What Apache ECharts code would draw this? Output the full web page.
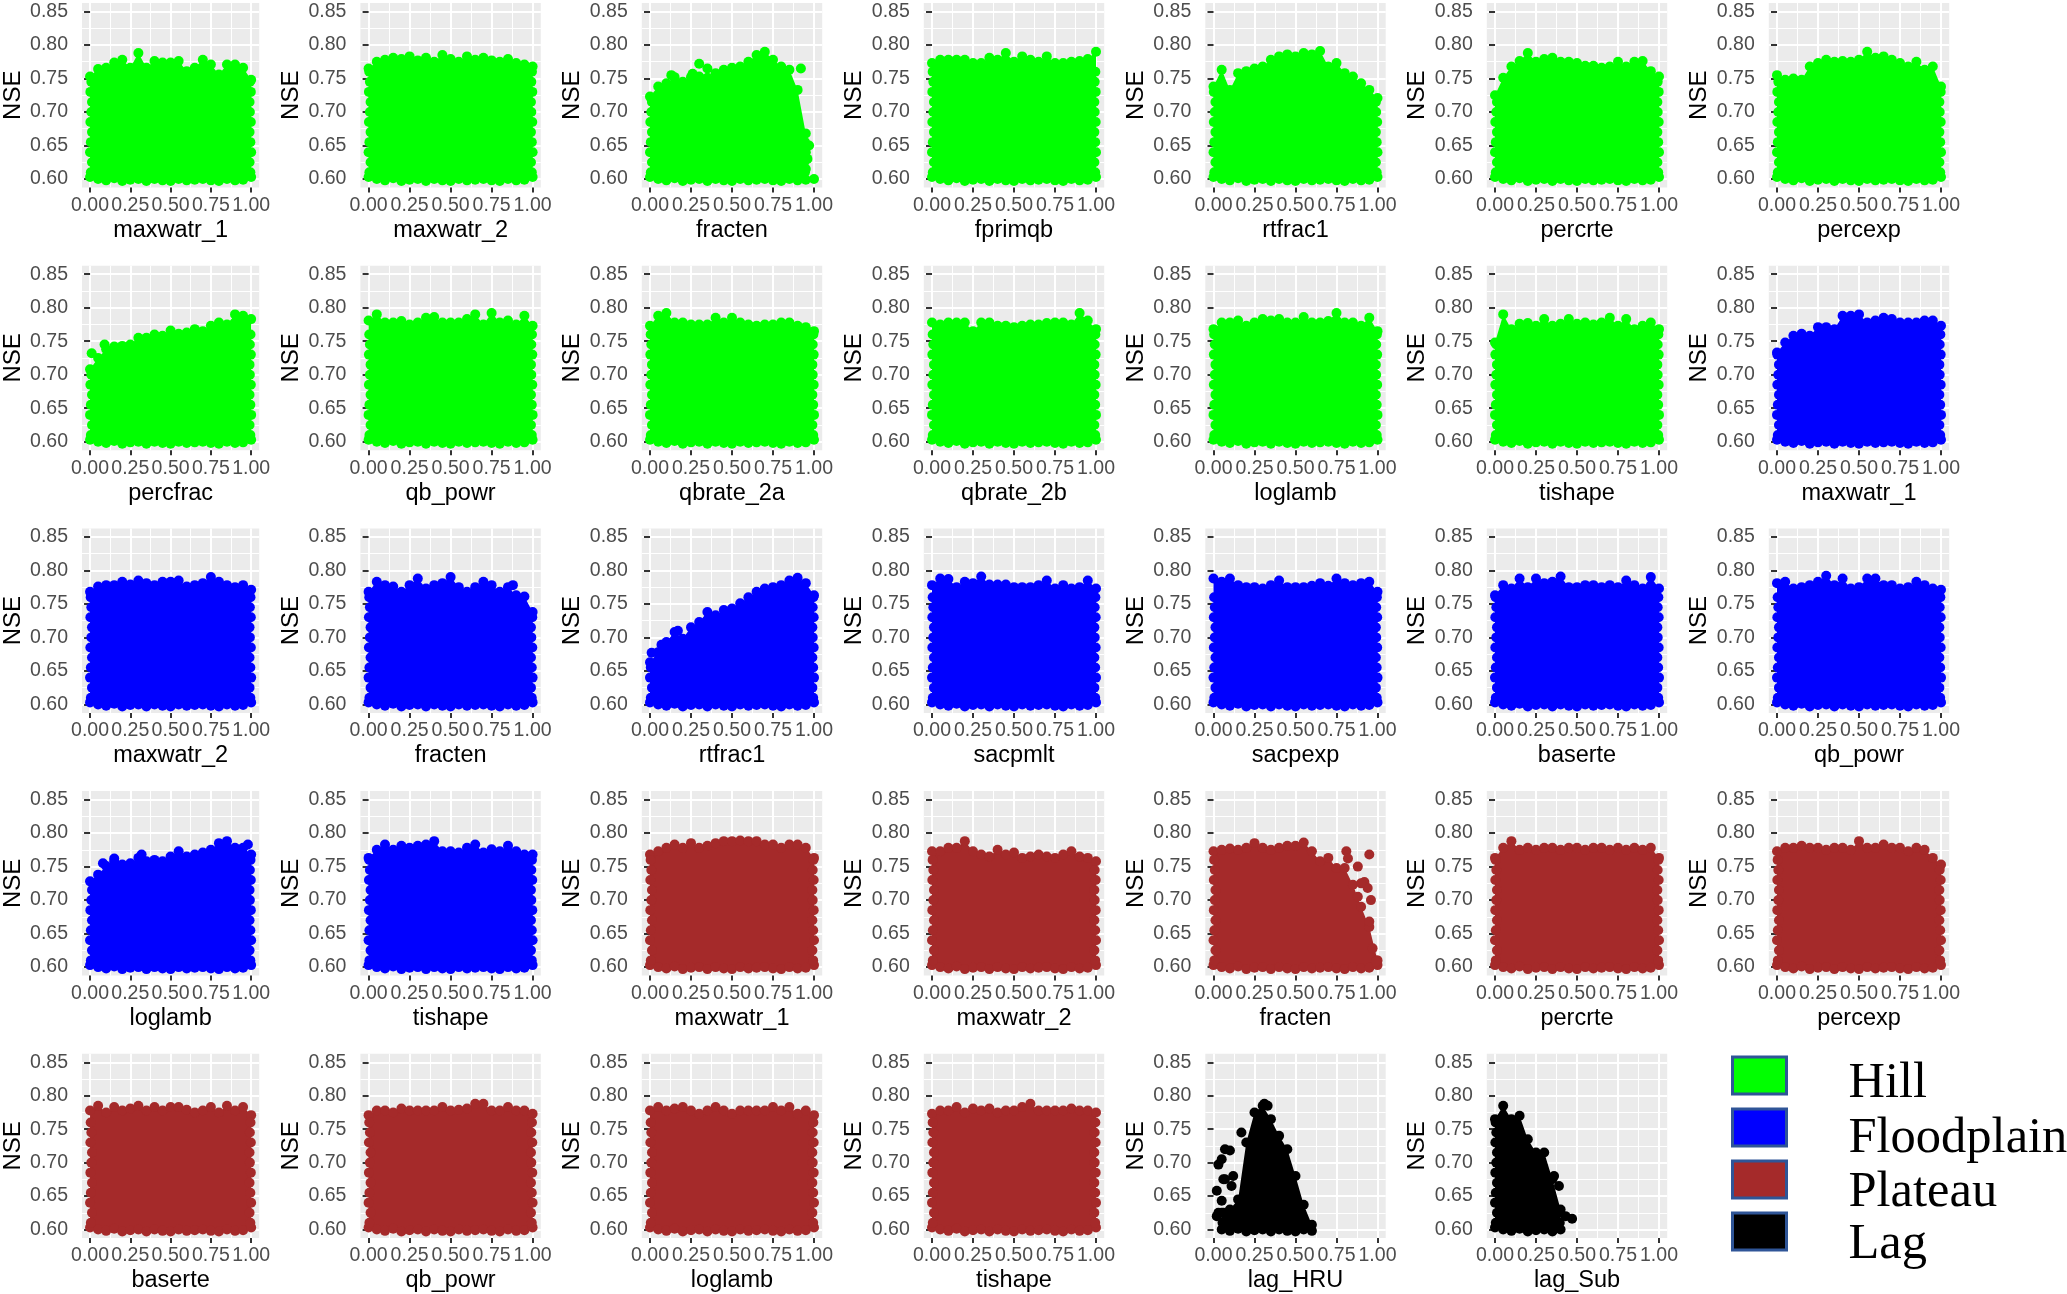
<!DOCTYPE html>
<html><head><meta charset="utf-8">
<style>html,body{margin:0;padding:0;background:#fff}#c{width:2067px;height:1294px}</style>
<script src="https://cdn.jsdelivr.net/npm/echarts@6/dist/echarts.min.js"></script>
</head><body><div id="c"></div>
<script>
// Parameter values at which each panel's upper NSE edge was read
const xRead = [0,.05,.1,.15,.2,.25,.3,.35,.4,.45,.5,.55,.6,.65,.7,.75,.8,.85,.9,.95,1];
// Upper edge of each dense point cloud, read at xRead (null = no points there)
const hillMaxwatr1 = [.753,.764,.766,.774,.778,.766,.788,.766,.776,.774,.774,.776,.761,.766,.778,.771,.756,.771,.771,.766,.748];
const hillMaxwatr2 = [.765,.775,.778,.781,.779,.783,.777,.781,.775,.785,.779,.775,.783,.778,.781,.777,.775,.779,.773,.771,.768];
const hillFracten = [.723,.738,.743,.752,.745,.752,.753,.751,.758,.763,.766,.768,.775,.785,.79,.778,.768,.763,.733,.668,null];
const hillFprimqb = [.773,.778,.778,.778,.778,.773,.773,.781,.778,.788,.775,.783,.778,.775,.783,.773,.773,.775,.776,.779,.79];
const hillRtfrac1 = [.738,.763,.733,.758,.761,.765,.768,.778,.783,.786,.783,.788,.786,.791,.768,.773,.758,.753,.743,.733,.721];
const hillPercrte = [.725,.751,.768,.776,.788,.775,.779,.781,.775,.775,.773,.769,.769,.766,.768,.775,.768,.775,.776,.761,.753];
const hillPercexp = [.755,.748,.75,.748,.768,.773,.778,.775,.776,.775,.778,.79,.781,.783,.778,.773,.768,.775,.763,.768,.738];
const hillPercfrac = [.708,.725,.738,.738,.743,.745,.755,.755,.76,.758,.766,.761,.763,.768,.765,.773,.778,.775,.79,.788,.783];
const hillQbPowr = [.781,.79,.778,.778,.78,.775,.778,.785,.786,.778,.778,.778,.783,.79,.775,.792,.778,.781,.775,.788,.773];
const hillQbrate2a = [.773,.788,.792,.778,.778,.775,.775,.775,.785,.778,.785,.778,.775,.773,.775,.775,.778,.778,.773,.771,.765];
const hillQbrate2b = [.778,.775,.778,.778,.778,.765,.778,.778,.773,.773,.771,.773,.775,.775,.777,.778,.778,.775,.792,.781,.768];
const hillLoglamb = [.768,.778,.778,.781,.773,.778,.783,.781,.783,.778,.778,.786,.778,.778,.78,.792,.778,.778,.773,.785,.765];
const hillTishape = [.748,.79,.768,.776,.777,.773,.783,.773,.776,.783,.776,.778,.775,.778,.785,.773,.783,.768,.773,.778,.768];
const floodMaxwatr1 = [.733,.748,.758,.761,.758,.771,.771,.768,.788,.788,.79,.778,.781,.785,.783,.778,.778,.778,.781,.781,.773];
const floodMaxwatr2 = [.768,.776,.778,.778,.783,.779,.785,.781,.778,.783,.783,.785,.776,.778,.781,.79,.783,.778,.775,.778,.771];
const floodFracten = [.768,.783,.778,.776,.768,.778,.788,.773,.778,.781,.79,.775,.768,.775,.783,.778,.768,.775,.763,.761,.738];
const floodRtfrac1 = [.663,.678,.693,.708,.698,.715,.723,.738,.733,.741,.743,.751,.76,.768,.773,.775,.778,.785,.789,.781,.763];
const floodSacpmlt = [.778,.788,.787,.775,.783,.781,.791,.779,.779,.779,.775,.775,.775,.778,.785,.773,.778,.773,.775,.785,.773];
const floodSacpexp = [.788,.783,.788,.778,.775,.775,.773,.778,.785,.775,.775,.775,.777,.781,.777,.788,.781,.778,.781,.783,.768];
const floodBaserte = [.763,.778,.773,.788,.775,.788,.781,.783,.791,.775,.775,.778,.778,.775,.778,.775,.785,.778,.773,.79,.773];
const floodQbPowr = [.781,.783,.773,.775,.778,.783,.792,.778,.788,.773,.775,.788,.788,.778,.778,.773,.775,.783,.778,.773,.771];
const floodLoglamb = [.728,.738,.751,.758,.753,.755,.763,.758,.76,.758,.765,.773,.765,.768,.771,.775,.785,.788,.778,.778,.768];
const floodTishape = [.763,.775,.783,.775,.781,.778,.781,.783,.788,.773,.773,.771,.778,.783,.771,.776,.773,.781,.773,.768,.768];
const plateauMaxwatr1 = [.768,.773,.778,.783,.778,.785,.778,.781,.785,.788,.788,.789,.788,.788,.783,.783,.778,.783,.783,.778,.763];
const plateauMaxwatr2 = [.773,.773,.778,.778,.788,.773,.768,.765,.775,.768,.771,.763,.765,.768,.765,.763,.768,.773,.765,.763,.758];
const plateauFracten = [.773,.775,.777,.775,.778,.785,.778,.775,.778,.781,.781,.786,.773,.758,.763,.748,.748,.723,.69,.66,.61];
const plateauPercrte = [.763,.778,.788,.775,.778,.775,.778,.778,.775,.778,.778,.775,.778,.778,.775,.778,.775,.778,.775,.778,.763];
const plateauPercexp = [.773,.778,.778,.781,.778,.778,.775,.778,.778,.775,.788,.778,.778,.783,.778,.778,.773,.778,.775,.763,.753];
const plateauBaserte = [.778,.785,.775,.783,.778,.781,.785,.778,.783,.778,.783,.783,.779,.775,.778,.783,.775,.785,.778,.783,.771];
const plateauQbPowr = [.771,.778,.778,.775,.781,.778,.778,.778,.778,.783,.778,.779,.781,.788,.788,.778,.778,.783,.778,.778,.773];
const plateauLoglamb = [.778,.783,.778,.781,.783,.778,.773,.778,.783,.778,.773,.778,.778,.778,.778,.783,.778,.783,.773,.778,.771];
const plateauTishape = [.773,.778,.778,.783,.775,.781,.778,.781,.775,.778,.778,.783,.788,.778,.778,.778,.778,.781,.778,.778,.775];
const lagHru = [null,.625,.63,.645,.73,.775,.785,.765,.74,.72,.68,.637,.607,null,null,null,null,null,null,null,null];
const lagSub = [.765,.785,.765,.77,.735,.715,.715,.675,.63,null,null,null,null,null,null,null,null,null,null,null,null];

// Isolated points standing clear of the dense clouds [x, NSE]
const hillFractenOut = [[.92,.765],[.3,.772],[.35,.765],[1,.6],[.97,.65],[.96,.63],[.95,.615],[.13,.755],[.26,.757]];
const hillPercfracOut = [[.01,.732],[.09,.745],[.15,.742]];
const floodFractenOut = [[.88,.778]];
const floodRtfrac1Out = [[.01,.677],[.07,.689],[.17,.71]];
const floodLoglambOut = [[.15,.762],[.08,.755],[.32,.768],[.98,.783]];
const plateauFractenOut = [[.81,.773],[.82,.762],[.95,.768],[.88,.75],[.92,.727],[.94,.718],[.96,.7],[.95,.668],[.97,.628],[.99,.608],[.9,.725],[.88,.705]];
const lagHruOut = [[.07,.72],[.1,.718],[.05,.705],[.03,.697],[.06,.675],[.07,.675],[.12,.68],[.11,.665],[.02,.658],[.05,.643],[.02,.62],[.03,.625],[.17,.745],[.31,.788],[.33,.785]];
const lagSubOut = [[.39,.665],[.36,.68],[.47,.616],[.43,.62]];

// Points along the lower and side edges of the clouds
const bottomEdge = [.603,.6,.598,.601,.597,.599,.6,.597,.6,.598,.597,.6,.598,.599,.6,.598,.597,.6,.598,.599,.603];
const sideNSE = [.61,.625,.64,.655,.67,.685,.7,.715,.73,.745,.76];
const leftEdgeX = [.005,.012,0,.005,.012,.002,.008,.012,.002,.008,.004];
const rightEdgeX = [.995,.99,1,.995,.99,.998,.992,.99,.998,.992,.996];

const panelNames = ['maxwatr_1','maxwatr_2','fracten','fprimqb','rtfrac1','percrte','percexp',
  'percfrac','qb_powr','qbrate_2a','qbrate_2b','loglamb','tishape','maxwatr_1',
  'maxwatr_2','fracten','rtfrac1','sacpmlt','sacpexp','baserte','qb_powr',
  'loglamb','tishape','maxwatr_1','maxwatr_2','fracten','percrte','percexp',
  'baserte','qb_powr','loglamb','tishape','lag_HRU','lag_Sub'];
const panelGroups = ['Hill','Hill','Hill','Hill','Hill','Hill','Hill','Hill','Hill','Hill','Hill','Hill','Hill',
  'Floodplain','Floodplain','Floodplain','Floodplain','Floodplain','Floodplain','Floodplain','Floodplain','Floodplain','Floodplain',
  'Plateau','Plateau','Plateau','Plateau','Plateau','Plateau','Plateau','Plateau','Plateau','Lag','Lag'];
const panelTops = [hillMaxwatr1,hillMaxwatr2,hillFracten,hillFprimqb,hillRtfrac1,hillPercrte,hillPercexp,
  hillPercfrac,hillQbPowr,hillQbrate2a,hillQbrate2b,hillLoglamb,hillTishape,floodMaxwatr1,
  floodMaxwatr2,floodFracten,floodRtfrac1,floodSacpmlt,floodSacpexp,floodBaserte,floodQbPowr,
  floodLoglamb,floodTishape,plateauMaxwatr1,plateauMaxwatr2,plateauFracten,plateauPercrte,plateauPercexp,
  plateauBaserte,plateauQbPowr,plateauLoglamb,plateauTishape,lagHru,lagSub];
const panelOutliers = {2:hillFractenOut,7:hillPercfracOut,15:floodFractenOut,16:floodRtfrac1Out,21:floodLoglambOut,25:plateauFractenOut,32:lagHruOut,33:lagSubOut};

const groupNames = ['Hill','Floodplain','Plateau','Lag'];
const groupColors = {Hill:'#00ff00',Floodplain:'#0000ff',Plateau:'#a52a2a',Lag:'#000000'};
const xTicks = [0,.25,.5,.75,1];
const xMinor = [.125,.375,.625,.875];
const yTicks = [.6,.65,.7,.75,.8,.85];
const yMinor = [.625,.675,.725,.775,.825];

// layout
const X_ZERO = [87,368.6,650,932,1213.5,1495,1777], Y_TOP = 11.5, ROW_STEP = 262.7;
const UX = 164, UY = 670, XMIN = -.05, XMAX = 1.05, YMIN = .5873, YMAX = .8627;
const FONT = '"Liberation Sans", Arial, sans-serif';

const grid=[], xAxis=[], yAxis=[], series=[];
panelNames.forEach((name,i)=>{
  const c=i%7, r=Math.floor(i/7), g=grid.length;
  const left=X_ZERO[c]+XMIN*UX, top=Y_TOP+r*ROW_STEP+(.85-YMAX)*UY;
  grid.push({left,top,width:(XMAX-XMIN)*UX,height:(YMAX-YMIN)*UY,containLabel:false,show:true,backgroundColor:'#ebebeb',borderWidth:0});
  const xBase={gridIndex:g,type:'value',min:XMIN,max:XMAX,axisLine:{show:false}};
  const yBase={gridIndex:g,type:'value',min:YMIN,max:YMAX,axisLine:{show:false}};
  const ax=xAxis.length, ay=yAxis.length;
  xAxis.push({...xBase,position:'bottom',name,nameLocation:'middle',nameGap:31,
    nameTextStyle:{color:'#000',fontSize:23.5,fontFamily:FONT},
    axisTick:{show:true,length:5,customValues:xTicks,lineStyle:{color:'#333',width:2}},
    axisLabel:{show:true,margin:8,color:'#4d4d4d',fontSize:19.5,fontFamily:FONT,customValues:xTicks,formatter:v=>v.toFixed(2)},
    splitLine:{show:true,lineStyle:{color:'#fff',width:2}}});
  xAxis.push({...xBase,position:'bottom',axisTick:{show:false,customValues:xMinor},axisLabel:{show:false},
    splitLine:{show:true,lineStyle:{color:'#fff',width:1}}});
  yAxis.push({...yBase,position:'left',name:'NSE',nameLocation:'middle',nameRotate:90,nameGap:57,
    nameTextStyle:{color:'#000',fontSize:24,fontFamily:FONT},
    axisTick:{show:true,length:6,customValues:yTicks,lineStyle:{color:'#333',width:2}},
    axisLabel:{show:true,margin:14,color:'#4d4d4d',fontSize:19.5,fontFamily:FONT,customValues:yTicks,formatter:v=>v.toFixed(2)},
    splitLine:{show:true,lineStyle:{color:'#fff',width:2}}});
  yAxis.push({...yBase,position:'left',axisTick:{show:false,customValues:yMinor},axisLabel:{show:false},
    splitLine:{show:true,lineStyle:{color:'#fff',width:1}}});

  const group=panelGroups[i], color=groupColors[group], tops=panelTops[i];
  const edgePts=[];
  const present=[];
  tops.forEach((v,k)=>{ if(v!==null){ present.push(k); edgePts.push([xRead[k],v]); edgePts.push([xRead[k],bottomEdge[k]]); }});
  const kL=present[0], kR=present[present.length-1];
  sideNSE.forEach((y,k)=>{
    if(y<=tops[kL]) edgePts.push([xRead[kL]+leftEdgeX[k],y]);
    if(y<=tops[kR]) edgePts.push([xRead[kR]-1+rightEdgeX[k],y]);
  });
  const pts=edgePts.concat(panelOutliers[i]||[]);
  series.push({name:group,type:'scatter',xAxisIndex:ax,yAxisIndex:ay,data:pts,symbol:'circle',symbolSize:10,
    itemStyle:{color,opacity:1},silent:true,animation:false,z:3});
  series.push({name:group+' dense region',type:'line',xAxisIndex:ax,yAxisIndex:ay,
    data:present.map(k=>[xRead[k],tops[k]]),showSymbol:false,symbol:'none',smooth:false,
    lineStyle:{width:0,opacity:0},areaStyle:{color,opacity:1,origin:.6},silent:true,animation:false,z:3});
});

const legendFont={fontFamily:'"Liberation Serif","Times New Roman",serif',fontSize:50.5,color:'#000',lineHeight:38};
const chart=echarts.init(document.getElementById('c'),null,{renderer:'canvas',width:2067,height:1294});
chart.setOption({
  animation:false,backgroundColor:'#fff',
  grid,xAxis,yAxis,series,
  legend:{data:groupNames,orient:'vertical',left:1731,top:1035,padding:0,icon:'rect',itemWidth:54,itemHeight:37,itemGap:-29,
    selectedMode:false,itemStyle:{borderColor:'#2f5597',borderWidth:3},
    formatter:n=>`{${n}|${n}}`,
    textStyle:{...legendFont,rich:{
      Hill:{...legendFont,padding:[23,0,7,57]},
      Floodplain:{...legendFont,padding:[26,0,4,57]},
      Plateau:{...legendFont,padding:[28,0,2,57]},
      Lag:{...legendFont,padding:[28,0,2,57]}
    }}}
});
</script></body></html>
